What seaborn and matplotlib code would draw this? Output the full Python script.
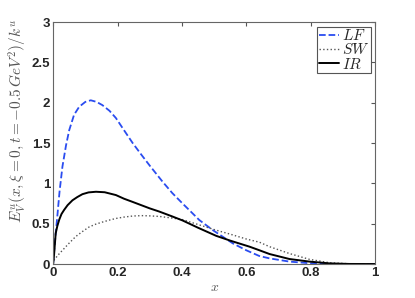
import numpy as np
import pandas as pd
import seaborn as sns
import matplotlib
matplotlib.use("Agg")
import matplotlib.pyplot as plt

# values
x_lf = [0.0, 0.005, 0.013, 0.02, 0.029, 0.04, 0.05, 0.065, 0.081, 0.1, 0.117, 0.135, 0.153,
        0.175, 0.195, 0.22, 0.247, 0.275, 0.3, 0.34, 0.37, 0.402, 0.43, 0.454, 0.496, 0.53,
        0.558, 0.6, 0.64, 0.672, 0.734, 0.796, 0.85, 0.9, 1.0]
y_lf = [0.0, 0.25, 0.59, 0.9, 1.21, 1.47, 1.66, 1.85, 1.95, 2.01, 2.03, 2.01, 1.97,
        1.9, 1.81, 1.66, 1.5, 1.35, 1.22, 1.02, 0.88, 0.75, 0.64, 0.545, 0.42, 0.33,
        0.256, 0.17, 0.1, 0.07, 0.03, 0.01, 0.003, 0.0, 0.0]

x_sw = [0.0, 0.003, 0.015, 0.029, 0.05, 0.07, 0.09, 0.112, 0.133, 0.153, 0.175, 0.195, 0.22,
        0.247, 0.275, 0.3, 0.33, 0.37, 0.402, 0.45, 0.506, 0.55, 0.6, 0.641, 0.672, 0.734,
        0.796, 0.858, 0.92, 1.0]
y_sw = [0.0, 0.05, 0.11, 0.17, 0.26, 0.34, 0.4, 0.46, 0.495, 0.52, 0.545, 0.565, 0.582,
        0.595, 0.6, 0.597, 0.59, 0.57, 0.55, 0.49, 0.42, 0.37, 0.31, 0.27, 0.215, 0.13,
        0.058, 0.016, 0.003, 0.0]

x_ir = [0.0, 0.003, 0.008, 0.013, 0.019, 0.026, 0.034, 0.045, 0.06, 0.075, 0.091, 0.11, 0.133,
        0.16, 0.195, 0.22, 0.247, 0.3, 0.33, 0.37, 0.402, 0.45, 0.506, 0.55, 0.61, 0.641,
        0.672, 0.734, 0.796, 0.858, 0.92, 1.0]
y_ir = [0.0, 0.12, 0.38, 0.47, 0.55, 0.62, 0.67, 0.73, 0.79, 0.83, 0.866, 0.888, 0.896,
        0.89, 0.855, 0.81, 0.77, 0.69, 0.65, 0.59, 0.54, 0.45, 0.35, 0.29, 0.215, 0.17,
        0.124, 0.062, 0.03, 0.008, 0.001, 0.0]

sns.set_style("white")
plt.rcParams["mathtext.fontset"] = "cm"

fig = plt.figure(figsize=(4.15, 2.98), dpi=100)
ax = fig.add_axes([0.128, 0.114, 0.776, 0.812])

sns.lineplot(x=x_lf, y=y_lf, ax=ax, color="#2a4cf0", linestyle="--", linewidth=1.3,
             label="$LF$", sort=False)
sns.lineplot(x=x_sw, y=y_sw, ax=ax, color="#555555", linestyle=":", linewidth=1.0,
             label="$SW$", sort=False)
sns.lineplot(x=x_ir, y=y_ir, ax=ax, color="black", linestyle="-", linewidth=1.4,
             label="$IR$", sort=False)

ax.set_xlim(0, 1)
ax.set_ylim(0, 3)
ax.set_xticks(np.arange(0, 1.01, 0.2))
ax.set_xticklabels(["0", "0.2", "0.4", "0.6", "0.8", "1"])
ax.set_yticks(np.arange(0, 3.01, 0.5))
ax.set_yticklabels(["0", "0.5", "1", "1.5", "2", "2.5", "3"])
for lab in ax.get_xticklabels() + ax.get_yticklabels():
    lab.set_fontweight("bold")
    lab.set_fontsize(9.5)
    lab.set_family("Liberation Sans")
ax.tick_params(direction="in", length=3, top=True, right=True, color="#555555", pad=2)
for sp in ax.spines.values():
    sp.set_color("#666666")
    sp.set_linewidth(0.8)

ax.set_xlabel("$x$", fontsize=10, color="#555555", labelpad=1)
ax.set_ylabel(r"$E^u_V(x,\xi=0,t=-0.5\,GeV^2)/k^u$", fontsize=11, color="#555555")
ax.yaxis.set_label_coords(-0.075, 0.59)

leg = ax.legend(loc="upper right", fontsize=11, handlelength=1.3, handletextpad=0.2,
                labelspacing=-0.05, borderpad=0.1, borderaxespad=0.3, fancybox=False,
                framealpha=1)
leg.get_frame().set_edgecolor("#555555")
leg.get_frame().set_linewidth(0.8)

fig.savefig("out.png", dpi=100)
